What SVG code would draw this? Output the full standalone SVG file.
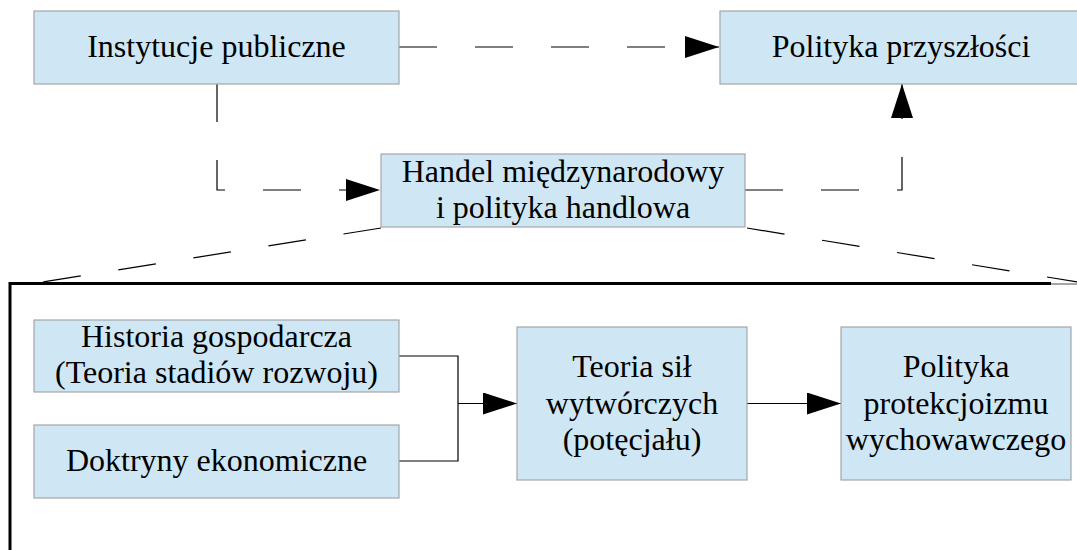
<svg xmlns="http://www.w3.org/2000/svg" width="1077" height="550" viewBox="0 0 1077 550">
  <defs>
    <style>
      .box { fill: #cfe7f5; stroke: #a6a6a6; stroke-width: 1.2; }
      .lbl { font-size: 32px; fill: #000; text-anchor: middle; }
      .dash { fill: none; stroke: #000; stroke-width: 1.2; stroke-dasharray: 38 38; }
      .solid { fill: none; stroke: #000; stroke-width: 1.2; }
      .frame { fill: none; stroke: #000; stroke-width: 3; }
    </style>
    <marker id="arrow" viewBox="0 0 34 22" refX="34" refY="11" markerWidth="34" markerHeight="22" markerUnits="userSpaceOnUse" orient="auto">
      <path d="M0,0 L34,11 L0,22 Z" fill="#000"/>
    </marker>
  </defs>

  <rect width="1077" height="550" fill="#fff"/>

  <!-- enclosing frame of the lower section -->
  <g id="frame">
    <path class="frame" d="M1051,283.5 H10 V552"/>
    <line x1="1051" y1="284" x2="1077" y2="284" stroke="#a6a6a6" stroke-width="2"/>
  </g>

  <!-- connectors -->
  <g id="connectors">
    <path class="dash" d="M399,47 H719" marker-end="url(#arrow)"/>
    <path class="dash" d="M217,84 V190 H380" marker-end="url(#arrow)"/>
    <path class="dash" d="M745,190 H902 V84" marker-end="url(#arrow)"/>
    <path class="dash" d="M381,228 L42,282"/>
    <path class="dash" d="M747,228 L1090,284"/>
    <path class="solid" d="M399,356 H458 V461 H399"/>
    <path class="solid" d="M458,403.5 H517" marker-end="url(#arrow)"/>
    <path class="solid" d="M747,403.5 H841" marker-end="url(#arrow)"/>
  </g>

  <g font-family="'Liberation Serif', 'DejaVu Serif', serif">
    <g id="instytucje">
      <rect class="box" x="34" y="11" width="365" height="73"/>
      <text class="lbl" x="216.5" y="57">Instytucje publiczne</text>
    </g>

    <g id="polityka-przyszlosci">
      <rect class="box" x="720" y="11" width="364" height="73"/>
      <text class="lbl" x="901" y="57">Polityka przyszłości</text>
    </g>

    <g id="handel">
      <rect class="box" x="381" y="154" width="364" height="73"/>
      <text class="lbl" x="563" y="182">Handel międzynarodowy</text>
      <text class="lbl" x="563" y="218">i polityka handlowa</text>
    </g>

    <g id="historia">
      <rect class="box" x="34" y="320" width="365" height="72"/>
      <text class="lbl" x="216.5" y="347">Historia gospodarcza</text>
      <text class="lbl" x="216.5" y="383">(Teoria stadiów rozwoju)</text>
    </g>

    <g id="doktryny">
      <rect class="box" x="34" y="425" width="365" height="73"/>
      <text class="lbl" x="216.5" y="471">Doktryny ekonomiczne</text>
    </g>

    <g id="teoria">
      <rect class="box" x="517" y="327" width="230" height="153"/>
      <text class="lbl" x="632" y="377">Teoria sił</text>
      <text class="lbl" x="632" y="413.5">wytwórczych</text>
      <text class="lbl" x="632" y="450">(potęcjału)</text>
    </g>

    <g id="protekcjonizm">
      <rect class="box" x="841" y="327" width="230" height="153"/>
      <text class="lbl" x="956" y="377">Polityka</text>
      <text class="lbl" x="956" y="413.5">protekcjoizmu</text>
      <text class="lbl" x="956" y="450">wychowawczego</text>
    </g>
  </g>
</svg>
